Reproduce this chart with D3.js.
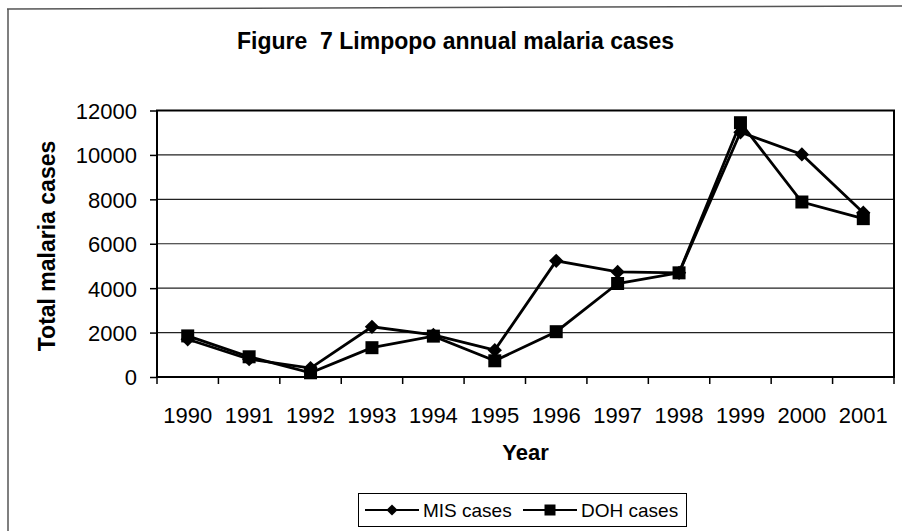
<!DOCTYPE html>
<html>
<head>
<meta charset="utf-8">
<script src="https://cdn.jsdelivr.net/npm/d3@7"></script>
<style>
  body { margin: 0; background: #fff; }
  text { font-family: "Liberation Sans", Arial, sans-serif; fill: #000; white-space: pre; }
</style>
</head>
<body>
<div class="chart"></div>
<script>
// Data

var years = ["1990", "1991", "1992", "1993", "1994", "1995", "1996", "1997", "1998", "1999", "2000", "2001"];
var misCases = [1700, 800, 400, 2260, 1900, 1210, 5230, 4730, 4690, 11020, 10020, 7400];
var dohCases = [1850, 910, 190, 1320, 1840, 730, 2040, 4210, 4690, 11450, 7880, 7130];
var yTicks = [0, 2000, 4000, 6000, 8000, 10000, 12000];

// Set-up the plot dimensions

var svgWidth = 902;
var svgHeight = 531;

var margin = { top: 110.5, right: 8, bottom: 154, left: 157 };

var width = svgWidth - margin.left - margin.right;
var height = svgHeight - margin.top - margin.bottom;

var root = d3.select(".chart")
    .append("svg")
    .attr("width", svgWidth)
    .attr("height", svgHeight);

// outer frame (only top and left edges survive in the scan)
root.append("line")
    .attr("x1", 7).attr("y1", 9).attr("x2", 902).attr("y2", 6)
    .attr("stroke", "#555").attr("stroke-width", 1.5);
root.append("line")
    .attr("x1", 8).attr("y1", 9).attr("x2", 8).attr("y2", 531)
    .attr("stroke", "#555").attr("stroke-width", 1.5);

root.append("text")
    .attr("x", 237)
    .attr("y", 49)
    .attr("font-size", "23px")
    .attr("font-weight", "bold")
    .text("Figure  7 Limpopo annual malaria cases");

var chart = root.append("g")
    .attr("transform", "translate(" + margin.left + "," + margin.top + ")");

// Scales

var xScale = d3.scaleBand()
    .domain(years)
    .range([0, width]);

var yScale = d3.scaleLinear()
    .domain([0, 12000])
    .range([height, 0]);

// Gridlines

chart.selectAll(".grid")
    .data(yTicks)
    .enter()
    .append("line")
    .attr("class", "grid")
    .attr("x1", 0)
    .attr("x2", width)
    .attr("y1", function(d) { return yScale(d); })
    .attr("y2", function(d) { return yScale(d); })
    .attr("stroke", "#222")
    .attr("stroke-width", 1.2);

// Axes

var bottomAxis = d3.axisBottom(xScale).tickSize(0).tickPadding(30);
var leftAxis = d3.axisLeft(yScale)
    .tickValues(yTicks)
    .tickFormat(d3.format("d"))
    .tickSize(7)
    .tickPadding(13);

var xAxis = chart.append("g")
    .attr("transform", "translate(0," + height + ")")
    .call(bottomAxis);
xAxis.select(".domain").remove();
xAxis.selectAll("text").attr("font-size", "22px").attr("font-family", null);

// tick marks sit between categories
xAxis.selectAll(".sep")
    .data(d3.range(years.length + 1))
    .enter()
    .append("line")
    .attr("class", "sep")
    .attr("x1", function(d) { return d * xScale.step(); })
    .attr("x2", function(d) { return d * xScale.step(); })
    .attr("y1", 0)
    .attr("y2", 7)
    .attr("stroke", "#000")
    .attr("stroke-width", 1.5);

var yAxis = chart.append("g")
    .call(leftAxis);
yAxis.select(".domain").remove();
yAxis.selectAll("line").attr("stroke-width", 1.5);
yAxis.selectAll("text").attr("font-size", "22px").attr("font-family", null).attr("dy", "0.36em");

// plot border
chart.append("rect")
    .attr("x", 0)
    .attr("y", 0)
    .attr("width", width)
    .attr("height", height)
    .attr("fill", "none")
    .attr("stroke", "#000")
    .attr("stroke-width", 2);

// Lines and markers

var line = d3.line()
    .x(function(d, i) { return xScale(years[i]) + xScale.bandwidth() / 2; })
    .y(function(d) { return yScale(d); });

var diamond = d3.symbol().type(d3.symbolDiamond2).size(130);

function drawSeries(values, symbolPath) {
    chart.append("path")
        .datum(values)
        .attr("d", line)
        .attr("fill", "none")
        .attr("stroke", "#000")
        .attr("stroke-width", 2.8);

    chart.selectAll(null)
        .data(values)
        .enter()
        .append("path")
        .attr("d", symbolPath)
        .attr("transform", function(d, i) {
            return "translate(" + (xScale(years[i]) + xScale.bandwidth() / 2) + "," + yScale(d) + ")";
        })
        .attr("fill", "#000");
}

drawSeries(misCases, diamond);
drawSeries(dohCases, "M-6.5,-6.5H6.5V6.5H-6.5Z");

// Axis titles

chart.append("text")
    .attr("transform", "rotate(-90)")
    .attr("x", 0 - (246 - margin.top))
    .attr("y", 47 - margin.left)
    .attr("dy", "0.36em")
    .attr("text-anchor", "middle")
    .attr("font-size", "23px")
    .attr("font-weight", "bold")
    .text("Total malaria cases");

chart.append("text")
    .attr("x", width / 2)
    .attr("y", 460 - margin.top)
    .attr("text-anchor", "middle")
    .attr("font-size", "22px")
    .attr("font-weight", "bold")
    .text("Year");

// Legend

var legend = root.append("g");

legend.append("rect")
    .attr("x", 358.5)
    .attr("y", 493.5)
    .attr("width", 328)
    .attr("height", 33)
    .attr("fill", "#fff")
    .attr("stroke", "#000")
    .attr("stroke-width", 1);

var legendItems = [
    { label: "MIS cases", x: 365, symbol: d3.symbol().type(d3.symbolDiamond2).size(80)() },
    { label: "DOH cases", x: 523, symbol: "M-5.5,-5.5H5.5V5.5H-5.5Z" }
];

legendItems.forEach(function(item) {
    legend.append("line")
        .attr("x1", item.x).attr("x2", item.x + 54)
        .attr("y1", 510).attr("y2", 510)
        .attr("stroke", "#000")
        .attr("stroke-width", 2);
    legend.append("path")
        .attr("d", item.symbol)
        .attr("transform", "translate(" + (item.x + 27) + ",510)")
        .attr("fill", "#000");
    legend.append("text")
        .attr("x", item.x + 58)
        .attr("y", 510)
        .attr("dy", "0.36em")
        .attr("font-size", "19px")
        .text(item.label);
});
</script>
</body>
</html>
